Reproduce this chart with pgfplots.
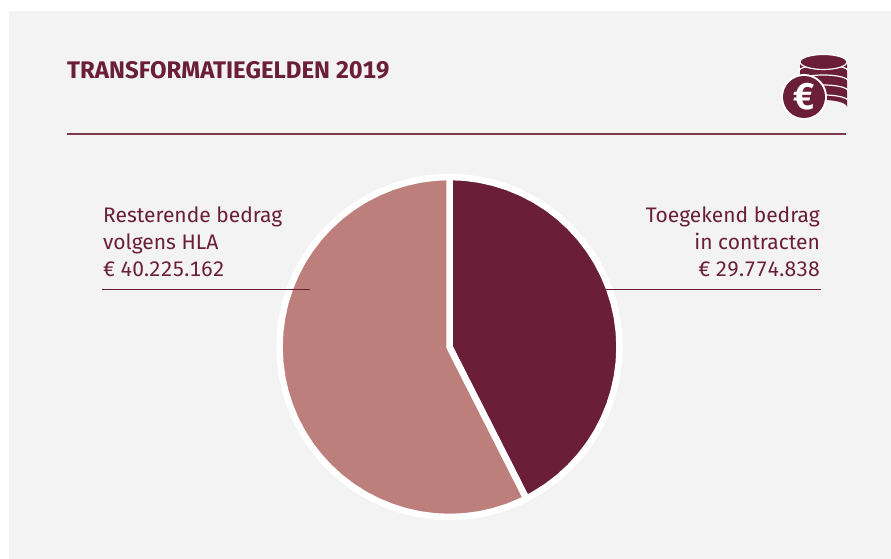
\documentclass[border=0pt]{standalone}
\usepackage{pgfplots}
\pgfplotsset{compat=1.18}
\usepackage{fontspec}
\setmainfont[Numbers={Monospaced,Lining}]{Fira Sans}
\definecolor{dark}{HTML}{6A1E38}
\definecolor{rosy}{HTML}{BC7F7C}
\definecolor{panel}{HTML}{F3F3F3}
\definecolor{rule}{HTML}{7A3A4C}
\begin{document}
\begin{tikzpicture}
\useasboundingbox (0,0) rectangle (891pt,559pt);
\fill[white] (0,0) rectangle (891pt,559pt);
\fill[panel] (9pt,0) rectangle (891pt,548pt);
% pie centred on the axis origin; 1 unit = 1pt
% Toegekend 29.774.838 of 70.000.000 = 153.13 deg; Resterend 40.225.162 = 206.87 deg
\begin{axis}[at={(0,0)},anchor=south west,scale only axis,width=891pt,height=559pt,
  hide axis,xmin=-449.5,xmax=441.5,ymin=-212,ymax=347,clip=false]
\addplot[data cs=polar,fill=dark,draw=white,line width=6.5pt,line join=miter] coordinates {
(90,170)(85,170)(80,170)(75,170)(70,170)(65,170)(60,170)(55,170)(50,170)(45,170)(40,170)(35,170)(30,170)(25,170)(20,170)(15,170)(10,170)(5,170)(0,170)
(-5,170)(-10,170)(-15,170)(-20,170)(-25,170)(-30,170)(-35,170)(-40,170)(-45,170)(-50,170)(-55,170)(-60,170)(-63.13,170)(0,0)} -- cycle;
\addplot[data cs=polar,fill=rosy,draw=white,line width=6.5pt,line join=miter] coordinates {
(-63.13,170)(-65,170)(-70,170)(-75,170)(-80,170)(-85,170)(-90,170)(-95,170)(-100,170)(-105,170)(-110,170)(-115,170)(-120,170)(-125,170)(-130,170)(-135,170)(-140,170)(-145,170)(-150,170)(-155,170)(-160,170)(-165,170)(-170,170)(-175,170)(-180,170)
(-185,170)(-190,170)(-195,170)(-200,170)(-205,170)(-210,170)(-215,170)(-220,170)(-225,170)(-230,170)(-235,170)(-240,170)(-245,170)(-250,170)(-255,170)(-260,170)(-265,170)(-270,170)(0,0)} -- cycle;
\end{axis}
\begin{scope}[x=1pt,y=-1pt,yshift=559pt]
% title and rule
\node[anchor=base west,inner sep=0,text=dark,font=\fontsize{24}{28}\selectfont\bfseries] at (67,78.5) {TRANSFORMATIEGELDEN 2019};
\draw[rule,line width=1.5pt] (67,134) -- (846,134);
% labels
\def\lab{\fontsize{21}{25}\selectfont}
\node[anchor=base west,inner sep=0,text=dark,font=\lab] at (103,223) {Resterende bedrag};
\node[anchor=base west,inner sep=0,text=dark,font=\lab] at (103,250) {volgens HLA};
\node[anchor=base west,inner sep=0,text=dark,font=\lab] at (103,277) {€ 40.225.162};
\node[anchor=base east,inner sep=0,text=dark,font=\lab] at (820,223) {Toegekend bedrag};
\node[anchor=base east,inner sep=0,text=dark,font=\lab] at (820,250) {in contracten};
\node[anchor=base east,inner sep=0,text=dark,font=\lab] at (820,277) {€ 29.774.838};
\draw[dark,line width=1pt] (102,290) -- (310,290);
\draw[dark,line width=1pt] (600,290) -- (821,290);
% coin icon
\fill[dark] (800,62) -- (800,107) arc[start angle=180,end angle=360,x radius=23.5,y radius=7] -- (847,62) -- cycle;
\foreach \yy in {71,81,91,101}{\draw[white,line width=1.2pt] (799,\yy) arc[start angle=180,end angle=360,x radius=24.5,y radius=6];}
\fill[dark,draw=white,line width=1.2pt] (823.5,62) ellipse[x radius=23.5,y radius=7.5];
\fill[white] (804,97) circle[radius=23];
\fill[dark] (804,97) circle[radius=21];
\node[text=white,font=\fontsize{37}{37}\selectfont\bfseries,inner sep=0] at (803.5,97) {€};
\end{scope}
\end{tikzpicture}
\end{document}
